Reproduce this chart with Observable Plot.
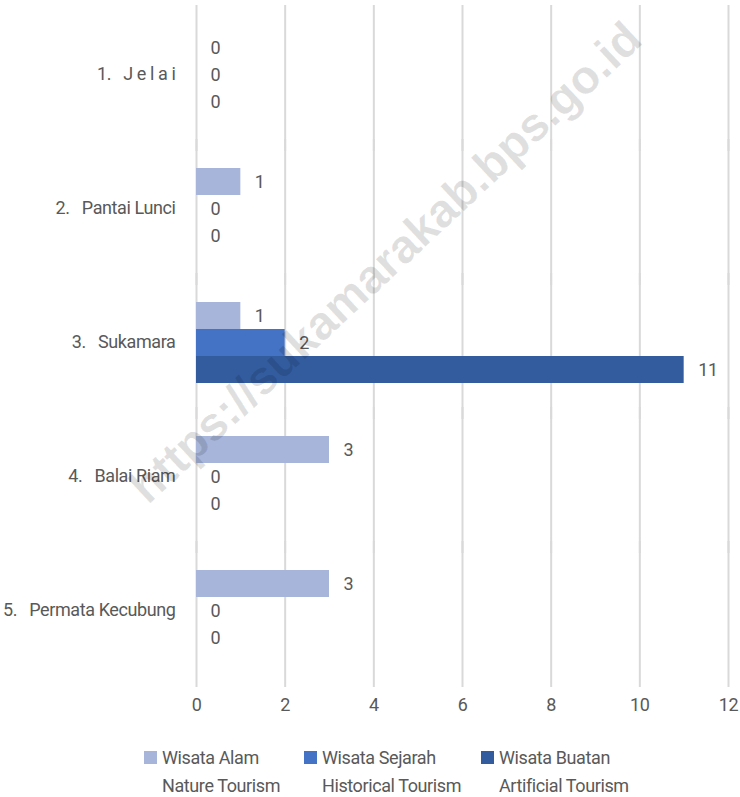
<!DOCTYPE html>
<html>
<head>
<meta charset="utf-8">
<script src="https://cdn.jsdelivr.net/npm/d3@7"></script>
<script src="https://cdn.jsdelivr.net/npm/@observablehq/plot@0.6"></script>
<style>
  html, body { margin: 0; padding: 0; background: #fff; }
  #wrap { position: relative; width: 740px; height: 797px; overflow: hidden;
    font-family: Roboto, "Liberation Sans", sans-serif; color: #595959; }
  #chart svg { display: block; }
  .legend-item { position: absolute; font-size: 18px; line-height: 28px; color: #595959; white-space: nowrap; letter-spacing: -0.4px; }
  .legend-swatch { position: absolute; width: 13px; height: 13px; }
  #wm { position: absolute; left: 385px; top: 262px; transform: translate(-50%, -50%) rotate(-43deg);
    font: bold 47px "Liberation Sans", Arial, sans-serif; color: rgba(0,0,0,0.12); white-space: nowrap; pointer-events: none; }
</style>
</head>
<body>
<div id="wrap">
  <div id="chart"></div>
  <div id="legend"></div>
  <div id="wm">https://sukamarakab.bps.go.id</div>
</div>
<script>
const categories = ["1.\u00a0\u00a0 J e l a i", "2.\u00a0\u00a0\u00a0Pantai Lunci", "3.\u00a0\u00a0\u00a0Sukamara", "4.\u00a0\u00a0\u00a0Balai Riam", "5.\u00a0\u00a0\u00a0Permata Kecubung"];
const seriesNames = ["Wisata Alam", "Wisata Sejarah", "Wisata Buatan"];
const seriesEnglish = ["Nature Tourism", "Historical Tourism", "Artificial Tourism"];
const seriesColors = ["#A7B5DA", "#4472C4", "#335C9F"];
const wisataAlam = [0, 1, 1, 3, 3];
const wisataSejarah = [0, 0, 2, 0, 0];
const wisataBuatan = [0, 0, 11, 0, 0];
const xTicks = [0, 2, 4, 6, 8, 10, 12];

const seriesValues = [wisataAlam, wisataSejarah, wisataBuatan];
const rows = [];
categories.forEach((c, i) => {
  seriesNames.forEach((s, j) => rows.push({category: c, series: s, value: seriesValues[j][i]}));
});

const chart = Plot.plot({
  width: 740,
  height: 730,
  marginLeft: 196,
  marginRight: 12,
  marginTop: 6,
  marginBottom: 52,
  style: {fontFamily: 'Roboto, "Liberation Sans", sans-serif', fontSize: "18px", color: "#595959", background: "transparent", letterSpacing: "-0.4px"},
  facet: {data: rows, y: "category"},
  fy: {domain: categories, padding: 0, label: null, axis: "left", tickSize: 0, tickPadding: 21},
  y: {domain: seriesNames, paddingInner: 0, paddingOuter: 0.95, axis: null},
  x: {domain: [0, 12], ticks: xTicks, tickSize: 0, tickPadding: 21, label: null, axis: "bottom", tickFormat: d => String(d)},
  color: {domain: seriesNames, range: seriesColors},
  marks: [
    Plot.ruleX(xTicks, {x: d => d, stroke: "#D9D9D9", strokeWidth: 2, insetTop: -2, insetBottom: -10}),
    Plot.barX(rows, {x: "value", y: "series", fill: "series"}),
    Plot.text(rows, {x: "value", y: "series", text: d => String(d.value), dx: 14, textAnchor: "start", fill: "#595959", fontSize: 18})
  ]
});
document.getElementById("chart").appendChild(chart);

const legend = document.getElementById("legend");
const legendX = [144, 304, 481];
seriesNames.forEach((s, i) => {
  const sw = document.createElement("div");
  sw.className = "legend-swatch";
  sw.style.left = legendX[i] + "px";
  sw.style.top = "751px";
  sw.style.background = seriesColors[i];
  legend.appendChild(sw);
  const t = document.createElement("div");
  t.className = "legend-item";
  t.style.left = (legendX[i] + 18) + "px";
  t.style.top = "744px";
  t.innerHTML = s + "<br>" + seriesEnglish[i];
  legend.appendChild(t);
});
</script>
</body>
</html>
